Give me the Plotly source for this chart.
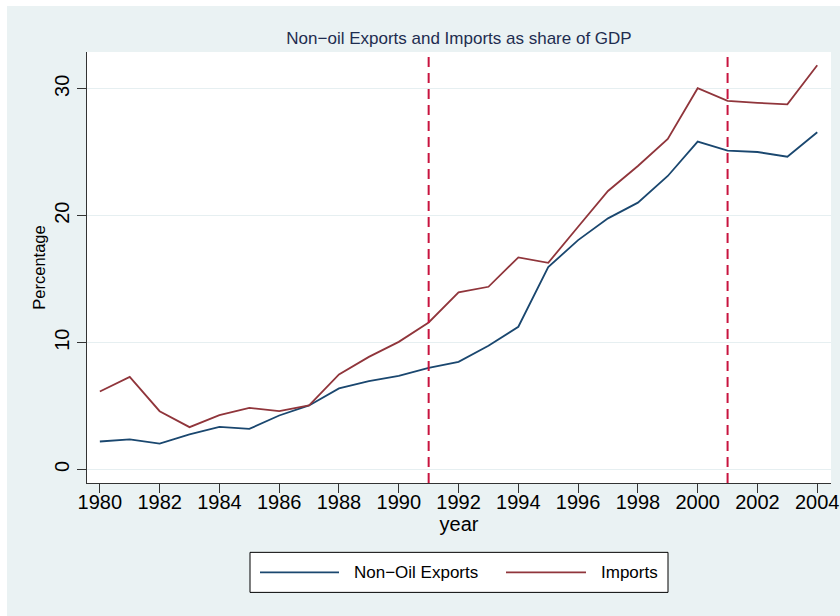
import plotly.graph_objects as go

years = list(range(1980, 2005))
non_oil_exports = [2.21, 2.37, 2.05, 2.78, 3.36, 3.20, 4.26, 5.05, 6.39, 6.96, 7.38, 8.01,
                   8.49, 9.75, 11.25, 15.95, 18.08, 19.79, 21.03, 23.13, 25.84, 25.13,
                   25.02, 24.65, 26.58]
imports = [6.15, 7.30, 4.60, 3.34, 4.28, 4.86, 4.60, 5.05, 7.49, 8.88, 10.06, 11.59,
           13.96, 14.40, 16.72, 16.29, 19.13, 21.95, 23.92, 26.05, 30.05, 29.05,
           28.89, 28.78, 31.86]
vlines = [1991, 2001]
x_ticks = list(range(1980, 2005, 2))
y_ticks = [0, 10, 20, 30]
series_names = ["Non\u2212Oil Exports", "Imports"]
colors = ["#1A476F", "#90353B"]

W, H = 840, 616
L, R, T, B = 87, 831, 52, 482.7

def px(x):
    return (x - L) / (R - L)

def py(y):
    return (B - y) / (B - T)

fig = go.Figure()
for name, vals, c in zip(series_names, [non_oil_exports, imports], colors):
    fig.add_trace(go.Scatter(x=years, y=vals, mode="lines", name=name,
                             line=dict(color=c, width=1.8), showlegend=False,
                             hoverinfo="skip"))

shapes = []
for v in vlines:
    shapes.append(dict(type="line", xref="x", yref="paper", x0=v, x1=v, y0=0, y1=1,
                       line=dict(color="#C8143F", width=2, dash="10px,6px")))
# thin white outer border strips (top & left)
shapes.append(dict(type="rect", xref="paper", yref="paper", x0=px(0), x1=px(W),
                   y0=py(6), y1=py(0), fillcolor="white", line=dict(width=0), layer="below"))
shapes.append(dict(type="rect", xref="paper", yref="paper", x0=px(0), x1=px(7),
                   y0=py(H), y1=py(0), fillcolor="white", line=dict(width=0), layer="below"))
# legend box
shapes.append(dict(type="rect", xref="paper", yref="paper", x0=px(250), x1=px(668),
                   y0=py(592), y1=py(552), fillcolor="white",
                   line=dict(color="black", width=1)))
annotations = []
leg_items = [(260, 339, 352), (506, 586, 599)]
for (lx0, lx1, tx), name, c in zip(leg_items, series_names, colors):
    shapes.append(dict(type="line", xref="paper", yref="paper", x0=px(lx0), x1=px(lx1),
                       y0=py(572), y1=py(572), line=dict(color=c, width=1.8)))
    annotations.append(dict(text=name, xref="paper", yref="paper", x=px(tx), y=py(572),
                            xanchor="left", yanchor="middle", showarrow=False,
                            font=dict(size=17, color="black")))

fig.update_layout(
    template="none",
    width=W, height=H, autosize=False,
    margin=dict(l=L, r=W - R, t=T, b=H - B, pad=0),
    paper_bgcolor="#EAF2F3", plot_bgcolor="white",
    font=dict(family="Liberation Sans, Arial, sans-serif", color="black"),
    title=dict(text="Non\u2212oil Exports and Imports as share of GDP",
               x=459 / W, xanchor="center", y=1 - 38 / H, yanchor="middle",
               font=dict(size=17, color="#1E2D50")),
    xaxis=dict(range=[1979.57, 2004.46], tickvals=x_ticks, ticks="outside", ticklen=9,
               tickcolor="#333333", showline=True, linecolor="#333333", linewidth=1,
               showgrid=False, zeroline=False, tickfont=dict(size=20),
               ticklabelstandoff=-8, automargin=False,
               title=dict(text="year", font=dict(size=20), standoff=1)),
    yaxis=dict(range=[-1.06, 32.9], tickvals=y_ticks, ticks="outside", ticklen=9,
               tickcolor="#333333", showline=True, linecolor="#333333", linewidth=1,
               showgrid=True, gridcolor="#E6EFF1", gridwidth=1, zeroline=False,
               tickangle=-90, tickfont=dict(size=20), automargin=False,
               title=dict(text="Percentage", font=dict(size=16.5), standoff=1)),
    shapes=shapes, annotations=annotations, showlegend=False,
)
fig.write_html("out.html", config={"displayModeBar": False},
               post_script="document.body.style.margin='0';document.body.style.overflow='hidden';")
